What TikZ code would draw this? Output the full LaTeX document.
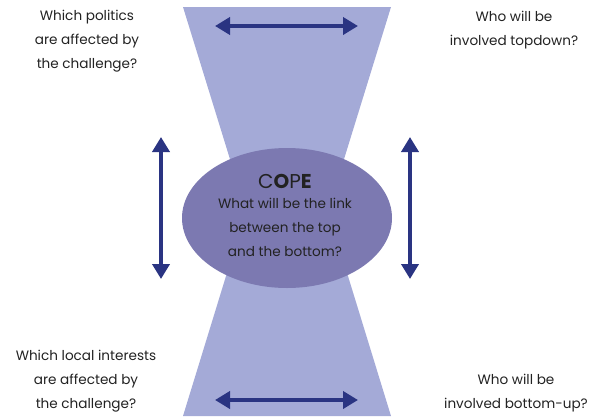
\documentclass[tikz,border=0pt]{standalone}
\usepackage{fontspec}
\setmainfont{Poppins}
\usetikzlibrary{arrows.meta,shapes.geometric}

\definecolor{funnel}{HTML}{A4AAD7}
\definecolor{core}{HTML}{7C79B1}
\definecolor{navy}{HTML}{2A3482}
\definecolor{ink}{HTML}{222222}

\begin{document}
\begin{tikzpicture}[
    x = 1pt,
    y = -1pt,
    link/.style = {draw=navy, line width=3.8pt,
    {Triangle[length=15pt, width=17pt]}-{Triangle[length=15pt, width=17pt]}},
    question/.style = {align=center, text=ink, inner sep=0pt,
    font=\fontsize{13.6}{24}\selectfont},
    core/.style = {ellipse, fill=core, minimum width=210pt,
    minimum height=140pt, inner sep=0pt},
]

\useasboundingbox (0,0) rectangle (592,418);

% hourglass behind the core
\fill [funnel] (183,7) -- (391,7) -- (328,211) -- (246,211) -- cycle;
\fill [funnel] (183,416) -- (391,416) -- (328,211) -- (246,211) -- cycle;

\node[core] (cope) at (287,218){};
\node[text=ink, font=\fontsize{20}{22}\selectfont] (cope_title) at (285,181)
    {C\textbf{O}P\textbf{E}};
\node[question] (cope_text) at (285,227)
    {What will be the link\\between the top\\and the bottom?};

% arrows
\coordinate (top_l) at (215,26);
\coordinate (top_r) at (358,26);
\coordinate (bot_l) at (215,400);
\coordinate (bot_r) at (358,400);
\coordinate (left_t) at (161,137);
\coordinate (left_b) at (161,279);
\coordinate (right_t) at (410,137);
\coordinate (right_b) at (410,279);
\draw [link] (top_l) -- (top_r);
\draw [link] (bot_l) -- (bot_r);
\draw [link] (left_t) -- (left_b);
\draw [link] (right_t) -- (right_b);

% questions
\node[question] (politics) at (87,41)
    {Which politics\\are affected by\\the challenge?};
\node[question] (topdown) at (514,30)
    {Who will be\\involved topdown?};
\node[question] (interests) at (86,381)
    {Which local interests\\are affected by\\the challenge?};
\node[question] (bottomup) at (516,393)
    {Who will be\\involved bottom-up?};

\end{tikzpicture}
\end{document}
